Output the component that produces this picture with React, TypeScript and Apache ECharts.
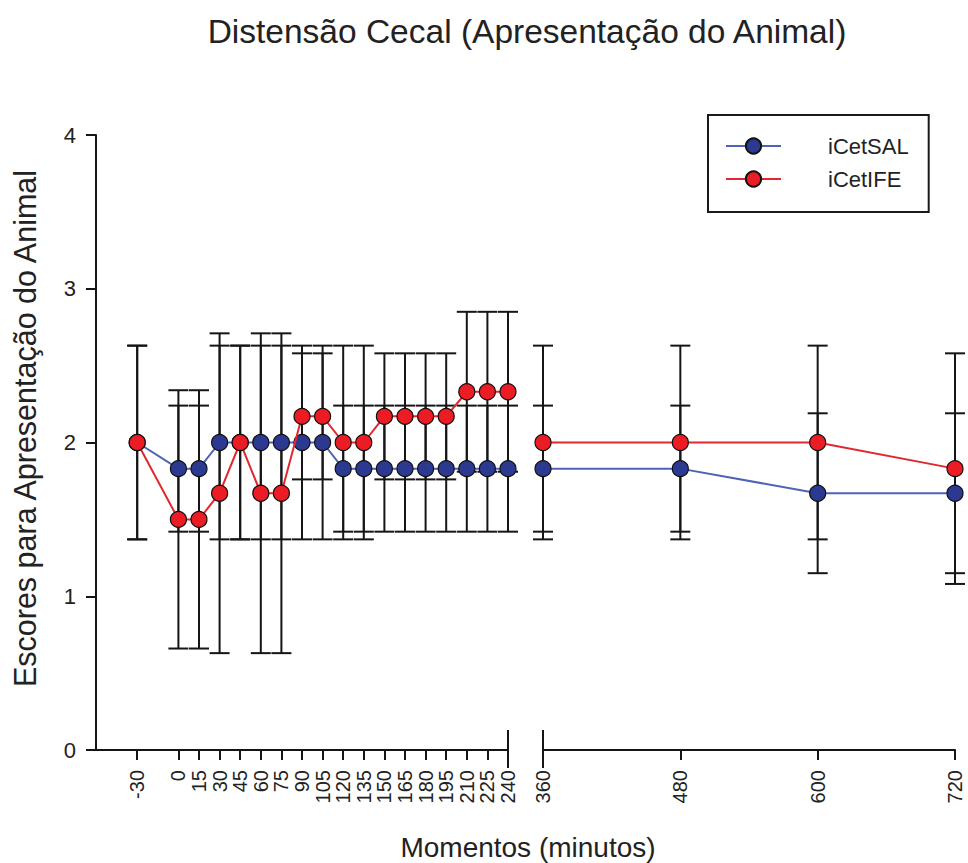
import React, { useEffect, useRef } from "react";
import * as echarts from "echarts";

const times = [-30, 0, 15, 30, 45, 60, 75, 90, 105, 120, 135, 150, 165, 180, 195, 210, 225, 240, 360, 480, 600, 720];
const salMean = [2, 1.83, 1.83, 2, 2, 2, 2, 2, 2, 1.83, 1.83, 1.83, 1.83, 1.83, 1.83, 1.83, 1.83, 1.83, 1.83, 1.83, 1.67, 1.67];
const salSD = [0.63, 0.41, 0.41, 0.63, 0.63, 0.63, 0.63, 0.63, 0.63, 0.41, 0.41, 0.41, 0.41, 0.41, 0.41, 0.41, 0.41, 0.41, 0.41, 0.41, 0.52, 0.52];
const ifeMean = [2, 1.5, 1.5, 1.67, 2, 1.67, 1.67, 2.17, 2.17, 2, 2, 2.17, 2.17, 2.17, 2.17, 2.33, 2.33, 2.33, 2, 2, 2, 1.83];
const ifeSD = [0.63, 0.84, 0.84, 1.04, 0.63, 1.04, 1.04, 0.41, 0.41, 0.63, 0.63, 0.41, 0.41, 0.41, 0.41, 0.52, 0.52, 0.52, 0.63, 0.63, 0.63, 0.75];
const leftTicks = [-30, 0, 15, 30, 45, 60, 75, 90, 105, 120, 135, 150, 165, 180, 195, 210, 225, 240];
const rightTicks = [360, 480, 600, 720];

const TITLE = "Distensão Cecal (Apresentação do Animal)";
const Y_NAME = "Escores para Apresentação do Animal";
const X_NAME = "Momentos (minutos)";
const SAL = "iCetSAL";
const IFE = "iCetIFE";

const FONT = "'Liberation Sans', Arial, Helvetica, sans-serif";
const AXIS_COLOR = "#151515";

export default function App() {
  const ref = useRef<HTMLDivElement>(null);

  useEffect(() => {
    if (!ref.current) return;
    const chart = echarts.init(ref.current, undefined, { renderer: "svg" });

    const split = (means: number[], sds: number[], left: boolean) =>
      times
        .map((t, i) => ({ t, m: means[i], s: sds[i] }))
        .filter((d) => (left ? d.t <= 240 : d.t >= 360));

    const lineData = (means: number[], left: boolean) =>
      split(means, means, left).map((d) => [d.t, d.m]);
    const errData = (means: number[], sds: number[], left: boolean) =>
      split(means, sds, left).map((d) => [d.t, d.m - d.s, d.m + d.s]);

    const errSeries = (means: number[], sds: number[], idx: number) => ({
      type: "custom",
      xAxisIndex: idx,
      yAxisIndex: idx,
      z: 1,
      silent: true,
      data: errData(means, sds, idx === 0),
      renderItem: (params: any, api: any) => {
        const x = api.value(0);
        const lo = api.coord([x, api.value(1)]);
        const hi = api.coord([x, api.value(2)]);
        const w = 10;
        const style = { stroke: AXIS_COLOR, lineWidth: 2 };
        return {
          type: "group",
          children: [
            { type: "line", shape: { x1: lo[0], y1: lo[1], x2: hi[0], y2: hi[1] }, style },
            { type: "line", shape: { x1: hi[0] - w, y1: hi[1], x2: hi[0] + w, y2: hi[1] }, style },
            { type: "line", shape: { x1: lo[0] - w, y1: lo[1], x2: lo[0] + w, y2: lo[1] }, style },
          ],
        };
      },
    });

    const lineSeries = (name: string, means: number[], idx: number, fill: string, stroke: string, z: number) => ({
      type: "line",
      name,
      xAxisIndex: idx,
      yAxisIndex: idx,
      z,
      data: lineData(means, idx === 0),
      symbol: "circle",
      symbolSize: 16,
      itemStyle: { color: fill, borderColor: "#111", borderWidth: 1.2 },
      lineStyle: { color: stroke, width: 2 },
    });

    const labelStyle = { fontSize: 20, color: "#222", fontFamily: FONT };

    const option: any = {
      animation: false,
      backgroundColor: "#ffffff",
      grid: [
        { left: 96, top: 135, width: 412, bottom: 113 },
        { left: 543, top: 135, width: 412, bottom: 113 },
      ],
      xAxis: [
        {
          type: "value",
          gridIndex: 0,
          min: -60,
          max: 240,
          axisLine: { show: true, onZero: false, lineStyle: { color: AXIS_COLOR, width: 2 } },
          axisTick: { show: true, length: 10, customValues: leftTicks, lineStyle: { color: AXIS_COLOR, width: 2 } },
          axisLabel: { rotate: 90, margin: 20, customValues: leftTicks, ...labelStyle },
          splitLine: { show: false },
        },
        {
          type: "value",
          gridIndex: 1,
          min: 360,
          max: 720,
          interval: 120,
          axisLine: { show: true, onZero: false, lineStyle: { color: AXIS_COLOR, width: 2 } },
          axisTick: { show: true, length: 10, lineStyle: { color: AXIS_COLOR, width: 2 } },
          axisLabel: { rotate: 90, margin: 20, ...labelStyle },
          splitLine: { show: false },
        },
      ],
      yAxis: [
        {
          type: "value",
          gridIndex: 0,
          min: 0,
          max: 4,
          interval: 1,
          axisLine: { show: true, onZero: false, lineStyle: { color: AXIS_COLOR, width: 2 } },
          axisTick: { show: true, length: 10, lineStyle: { color: AXIS_COLOR, width: 2 } },
          axisLabel: { margin: 20, fontSize: 22, color: "#222", fontFamily: FONT },
          splitLine: { show: false },
        },
        {
          type: "value",
          gridIndex: 1,
          min: 0,
          max: 4,
          interval: 1,
          show: false,
          splitLine: { show: false },
        },
      ],
      legend: {
        orient: "vertical",
        left: 708,
        top: 115,
        data: [SAL, IFE],
        itemWidth: 55,
        itemHeight: 19,
        itemGap: 11,
        padding: [20, 20, 22, 17],
        borderColor: "#1a1a1a",
        borderWidth: 2,
        backgroundColor: "#ffffff",
        textStyle: { fontSize: 22, lineHeight: 19, color: "#222", fontFamily: FONT, padding: [0, 0, 0, 42] },
        selectedMode: false,
      },
      series: [
        errSeries(salMean, salSD, 0),
        errSeries(ifeMean, ifeSD, 0),
        errSeries(salMean, salSD, 1),
        errSeries(ifeMean, ifeSD, 1),
        lineSeries(SAL, salMean, 0, "#2B3990", "#4F62B5", 2),
        lineSeries(IFE, ifeMean, 0, "#EC1C24", "#E0282E", 3),
        lineSeries(SAL, salMean, 1, "#2B3990", "#4F62B5", 2),
        lineSeries(IFE, ifeMean, 1, "#EC1C24", "#E0282E", 3),
      ],
    };

    chart.setOption(option);

    const pL = chart.convertToPixel({ xAxisIndex: 0, yAxisIndex: 0 }, [240, 0]) as number[];
    const pR = chart.convertToPixel({ xAxisIndex: 1, yAxisIndex: 1 }, [360, 0]) as number[];
    const top = chart.convertToPixel({ yAxisIndex: 0 }, 4) as unknown as number;
    const bot = chart.convertToPixel({ yAxisIndex: 0 }, 0) as unknown as number;
    const breakStyle = { stroke: AXIS_COLOR, lineWidth: 2 };

    chart.setOption({
      graphic: [
        {
          type: "text",
          x: 527,
          y: 31,
          style: { text: TITLE, font: `33.5px ${FONT}`, fill: "#222", align: "center", verticalAlign: "middle" },
        },
        {
          type: "text",
          x: 528,
          y: 847,
          style: { text: X_NAME, font: `28px ${FONT}`, fill: "#222", align: "center", verticalAlign: "middle" },
        },
        {
          type: "text",
          x: 25,
          y: (top + bot) / 2 - 14,
          rotation: Math.PI / 2,
          style: { text: Y_NAME, font: `30.5px ${FONT}`, fill: "#222", align: "center", verticalAlign: "middle" },
        },
        { type: "line", shape: { x1: pL[0], y1: pL[1] - 20, x2: pL[0], y2: pL[1] + 18 }, style: breakStyle },
        { type: "line", shape: { x1: pR[0], y1: pR[1] - 20, x2: pR[0], y2: pR[1] + 18 }, style: breakStyle },
      ],
    });

    return () => chart.dispose();
  }, []);

  return (
    <div
      ref={ref}
      style={{ position: "absolute", left: 0, top: 0, width: 968, height: 863, background: "#fff" }}
    />
  );
}
